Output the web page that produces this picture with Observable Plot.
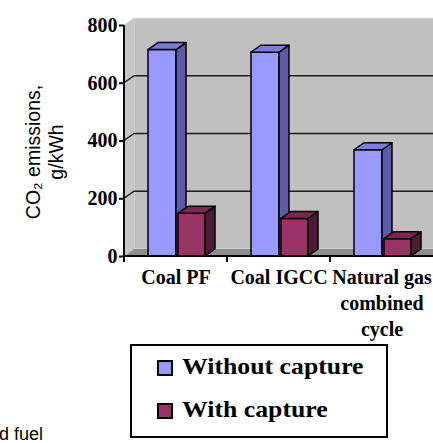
<!DOCTYPE html>
<html><head><meta charset="utf-8">
<script src="https://cdn.jsdelivr.net/npm/d3@7"></script>
<script src="https://cdn.jsdelivr.net/npm/@observablehq/plot@0.6"></script>
<style>
html,body{margin:0;padding:0;background:#fff;}
body{width:433px;height:443px;overflow:hidden;position:relative;}
#chart{position:absolute;left:0;top:0;}
#legend{position:absolute;left:130px;top:344px;width:254px;height:90px;border:2px solid #000;background:#fff;}
.sw{position:absolute;width:12px;height:12px;border:2px solid #000;}
.lt{position:absolute;font-family:"Liberation Serif","Times New Roman",serif;font-weight:bold;font-size:23px;line-height:26px;white-space:nowrap;transform:scaleX(1.12);transform-origin:0 0;color:#000;}
#note{position:absolute;left:-1px;top:425px;font-family:"Liberation Sans",Arial,sans-serif;font-size:18px;line-height:18px;color:#000;white-space:nowrap;}
</style></head><body>
<div id="chart"></div>
<div id="legend"></div>
<div id="note"></div>
<script>
const categories = ["Coal PF", "Coal IGCC", "Natural gas combined cycle"];
const categoryLabels = ["Coal PF", "Coal IGCC", "Natural gas\ncombined\ncycle"];
const withoutCapture = [715, 706, 368];
const withCapture = [148, 130, 60];
const seriesNames = ["Without capture", "With capture"];
const yTicks = [0, 200, 400, 600, 800];
const gridTicks = [200, 400, 600];
const yLabel = "CO\u2082 emissions,\ng/kWh";
const noteText = "d fuel";

const depth = {dx: 10, dy: -7};
const styles = [
  {front: "#9999ff", side: "#5b5ba6", top: "#7d7dd8"},
  {front: "#993366", side: "#4f1a35", top: "#7a2850"}
];
const serif = "'Liberation Serif','Times New Roman',serif";
const sans = "'Liberation Sans',Arial,sans-serif";

function walls() {
  return Plot.frame({
    render(index, scales, values, dims) {
      const {width, height, marginLeft: l, marginTop: t, marginRight, marginBottom} = dims;
      const r = width - marginRight, b = height - marginBottom;
      const {dx, dy} = depth;
      const g = d3.create("svg:g");
      g.append("rect").attr("x", l + dx).attr("y", t + dy).attr("width", r - l).attr("height", b - t)
        .attr("fill", "#c0c0c0").attr("stroke", "#dcdcdc").attr("stroke-width", 1);
      g.append("polygon").attr("points", [[l, t], [l + dx, t + dy], [l + dx, b + dy], [l, b]].join(" "))
        .attr("fill", "#c6c6c6");
      g.append("polygon").attr("points", [[l, b], [l + dx, b + dy], [r + dx, b + dy], [r, b]].join(" "))
        .attr("fill", "#8e8e8e");
      return g.node();
    }
  });
}

function grid() {
  return Plot.ruleY(gridTicks, {
    stroke: "#1a1a1a", strokeWidth: 1.5,
    render(index, scales, values, dims) {
      const {width, marginLeft: l, marginRight} = dims;
      const r = width - marginRight;
      const {dx, dy} = depth;
      const g = d3.create("svg:g").attr("stroke", "#1a1a1a").attr("stroke-width", 1.5).attr("fill", "none");
      for (const i of index) {
        const y = values.y[i];
        g.append("path").attr("d", `M${l},${y}L${l + dx},${y + dy}L${r + dx},${y + dy}`);
      }
      return g.node();
    }
  });
}

function axisLines() {
  return Plot.frame({
    render(index, scales, values, dims) {
      const {width, height, marginLeft: l, marginTop: t, marginRight, marginBottom} = dims;
      const r = width - marginRight, b = height - marginBottom;
      const g = d3.create("svg:g").attr("stroke", "#000").attr("stroke-width", 2).attr("fill", "none");
      g.append("path").attr("d", `M${l},${t}L${l},${b}L${r},${b}`);
      for (const c of categories) {
        const x0 = scales.x(c);
        g.append("path").attr("d", `M${x0},${b}L${x0},${b + 6}`);
      }
      return g.node();
    }
  });
}

function bars3d(values, style, insetLeft, insetRight) {
  const data = categories.map((c, i) => ({category: c, value: values[i]}));
  return Plot.barY(data, {
    x: "category", y: "value", fill: style.front, stroke: "#000", strokeWidth: 1.5,
    insetLeft, insetRight,
    render(index, scales, vals, dims, context, next) {
      const g = next(index, scales, vals, dims, context);
      const {dx, dy} = depth;
      for (const rect of Array.from(g.querySelectorAll("rect"))) {
        const x = +rect.getAttribute("x"), y = +rect.getAttribute("y");
        const w = +rect.getAttribute("width"), h = +rect.getAttribute("height");
        const side = [[x + w, y], [x + w + dx, y + dy], [x + w + dx, y + h + dy], [x + w, y + h]];
        const top = [[x, y], [x + dx, y + dy], [x + w + dx, y + dy], [x + w, y]];
        const ns = "http://www.w3.org/2000/svg";
        for (const [pts, fill] of [[side, style.side], [top, style.top]]) {
          const p = document.createElementNS(ns, "polygon");
          p.setAttribute("points", pts.join(" "));
          p.setAttribute("fill", fill);
          p.setAttribute("stroke", "#000");
          p.setAttribute("stroke-width", 1.5);
          p.setAttribute("stroke-linejoin", "round");
          g.appendChild(p);
        }
      }
      return g;
    }
  });
}

const chart = Plot.plot({
  width: 433, height: 345,
  marginLeft: 124, marginRight: 0, marginTop: 25, marginBottom: 89,
  style: {fontFamily: serif, background: "transparent"},
  x: {domain: categories, padding: 0, axis: null},
  y: {domain: [0, 800], axis: null},
  marks: [
    walls(),
    grid(),
    bars3d(withoutCapture, styles[0], 24, 51),
    bars3d(withCapture, styles[1], 54, 22),
    axisLines(),
    Plot.axisY({ticks: yTicks, tickSize: 5, tickPadding: 2, tickFormat: d => String(d), label: null,
      fontSize: 20, fontWeight: "bold", fontFamily: serif, stroke: "#000", strokeWidth: 2}),
    Plot.text(categories, {x: d => d, text: (d, i) => categoryLabels[i], frameAnchor: "bottom",
      lineAnchor: "top", dy: 9, fontSize: 20, fontWeight: "bold", fontFamily: serif, lineHeight: 1.3, fill: "#000"}),
    Plot.text([yLabel], {frameAnchor: "left", textAnchor: "middle", lineAnchor: "middle", dx: -80, dy: 11, rotate: -90, text: d => d,
      fontSize: 19.5, fontFamily: sans, lineHeight: 1.18, fill: "#000"})
  ]
});
document.getElementById("chart").appendChild(chart);

const legend = document.getElementById("legend");
const legendRows = [{top: 14, textTop: 8}, {top: 57, textTop: 51}];
seriesNames.forEach((name, i) => {
  const sw = document.createElement("div");
  sw.className = "sw";
  sw.style.left = "25px"; sw.style.top = legendRows[i].top + "px";
  sw.style.background = styles[i].front;
  legend.appendChild(sw);
  const t = document.createElement("div");
  t.className = "lt";
  t.style.left = "50px"; t.style.top = legendRows[i].textTop + "px";
  t.textContent = name;
  legend.appendChild(t);
});
document.getElementById("note").textContent = noteText;
</script>
</body></html>
